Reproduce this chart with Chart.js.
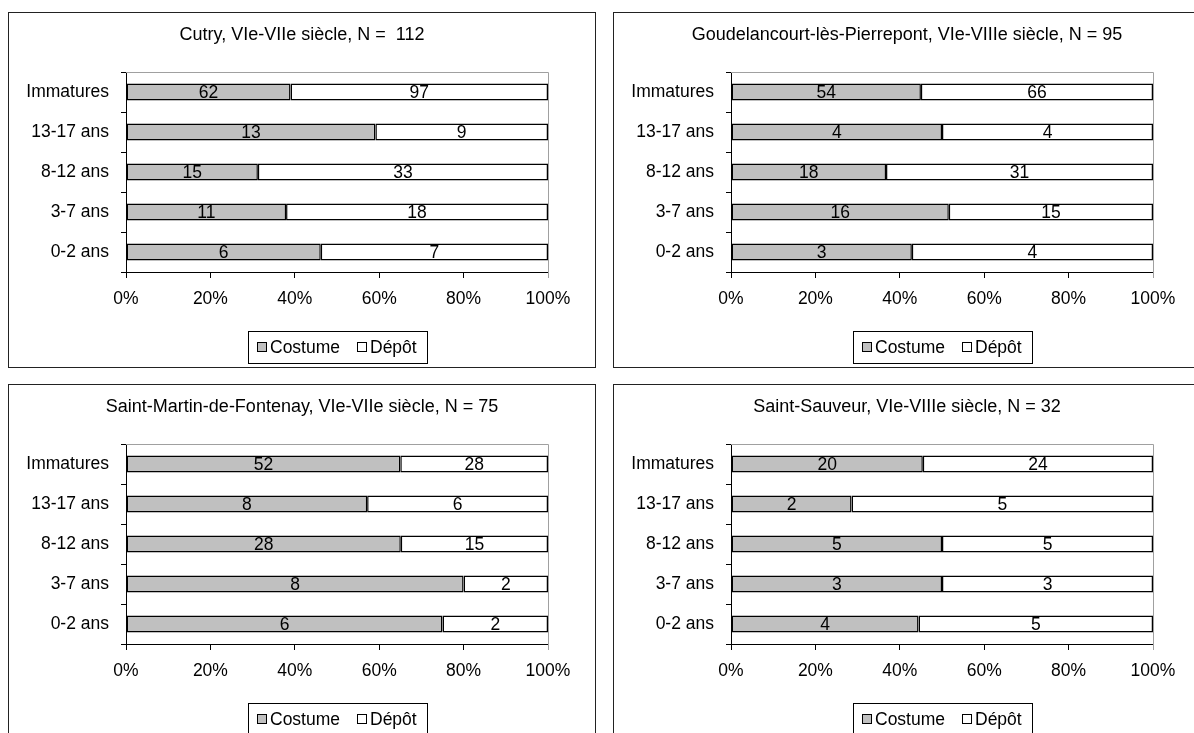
<!DOCTYPE html>
<html>
<head>
<meta charset="utf-8">
<script src="https://cdn.jsdelivr.net/npm/chart.js@4/dist/chart.umd.min.js"></script>
<style>
  body { margin: 0; background: #fff; overflow: hidden; width: 1194px; height: 733px; position: relative; }
  .panel { position: absolute; width: 586px; height: 354px; border: 1px solid #222; background: #fff; }
  .panel canvas { display: block; }
</style>
</head>
<body>
<div class="panel" style="left:8px;top:12px"><canvas id="chart-1" width="586" height="354"></canvas></div>
<div class="panel" style="left:613px;top:12px"><canvas id="chart-2" width="586" height="354"></canvas></div>
<div class="panel" style="left:8px;top:384px"><canvas id="chart-3" width="586" height="354"></canvas></div>
<div class="panel" style="left:613px;top:384px"><canvas id="chart-4" width="586" height="354"></canvas></div>

<script>
// data (counts)
const categories = ['Immatures', '13-17 ans', '8-12 ans', '3-7 ans', '0-2 ans'];
const seriesNames = ['Costume', 'Dépôt'];
const xTicks = [0, 20, 40, 60, 80, 100];

const titles = [
  'Cutry, VIe-VIIe siècle, N =  112',
  'Goudelancourt-lès-Pierrepont, VIe-VIIIe siècle, N = 95',
  'Saint-Martin-de-Fontenay, VIe-VIIe siècle, N = 75',
  'Saint-Sauveur, VIe-VIIIe siècle, N = 32'
];

const cutryCostume = [62, 13, 15, 11, 6];
const cutryDepot = [97, 9, 33, 18, 7];
const goudelancourtCostume = [54, 4, 18, 16, 3];
const goudelancourtDepot = [66, 4, 31, 15, 4];
const saintMartinCostume = [52, 8, 28, 8, 6];
const saintMartinDepot = [28, 6, 15, 2, 2];
const saintSauveurCostume = [20, 2, 5, 3, 4];
const saintSauveurDepot = [24, 5, 5, 3, 5];

const FONT = "'Liberation Sans', Arial, sans-serif";
const FSIZE = 17.5;
Chart.defaults.font.family = FONT;
Chart.defaults.font.size = FSIZE;
Chart.defaults.color = '#000';

// title centred on the whole panel (built-in title would follow the layout padding)
const panelTitle = {
  id: 'panelTitle',
  afterDraw(chart, args, opts) {
    const ctx = chart.ctx;
    ctx.save();
    ctx.font = '18px ' + FONT;
    ctx.fillStyle = '#000';
    ctx.textAlign = 'center';
    ctx.textBaseline = 'middle';
    ctx.fillText(opts.text, chart.width / 2, 22);
    ctx.restore();
  }
};

// gray frame on top and right of plot area
const frame = {
  id: 'frame',
  beforeDatasetsDraw(chart) {
    const a = chart.chartArea, ctx = chart.ctx;
    ctx.save();
    ctx.strokeStyle = '#a0a0a0';
    ctx.lineWidth = 1;
    ctx.beginPath();
    ctx.moveTo(a.left, a.top + 0.5);
    ctx.lineTo(a.right + 0.5, a.top + 0.5);
    ctx.lineTo(a.right + 0.5, a.bottom + 6);
    ctx.stroke();
    ctx.restore();
  }
};

// counts written in the middle of each segment
const valueLabels = {
  id: 'valueLabels',
  afterDatasetsDraw(chart) {
    const ctx = chart.ctx;
    ctx.save();
    ctx.font = FSIZE + 'px ' + FONT;
    ctx.fillStyle = '#000';
    ctx.textAlign = 'center';
    ctx.textBaseline = 'middle';
    chart.data.datasets.forEach((ds, i) => {
      chart.getDatasetMeta(i).data.forEach((bar, j) => {
        ctx.fillText(ds.counts[j], (bar.x + bar.base) / 2, bar.y + 1);
      });
    });
    ctx.restore();
  }
};

// boxed legend under the axis
const boxLegend = {
  id: 'boxLegend',
  afterDraw(chart) {
    const ctx = chart.ctx, a = chart.chartArea;
    const dsets = chart.data.datasets;
    ctx.save();
    ctx.font = FSIZE + 'px ' + FONT;
    const widths = dsets.map(ds => ctx.measureText(ds.label).width);
    let w = 9 + 10;
    widths.forEach((tw, i) => { w += 13 + tw + (i ? 17 : 0); });
    w = Math.round(w);
    const x0 = Math.round((a.left + a.right) / 2 - w / 2);
    const y0 = Math.round(a.bottom + 59);
    ctx.strokeStyle = '#000';
    ctx.lineWidth = 1;
    ctx.strokeRect(x0 + 0.5, y0 + 0.5, w, 32);
    let x = x0 + 9;
    ctx.textBaseline = 'middle';
    ctx.textAlign = 'left';
    dsets.forEach((ds, i) => {
      ctx.fillStyle = ds.backgroundColor;
      ctx.fillRect(x, y0 + 11, 9, 9);
      ctx.strokeRect(x + 0.5, y0 + 11.5, 9, 9);
      ctx.fillStyle = '#000';
      ctx.fillText(ds.label, x + 13, y0 + 17);
      x = Math.round(x + 13 + widths[i] + 17);
    });
    ctx.restore();
  }
};

function toPercent(a, b) {
  return a.map((v, i) => v / (a[i] + b[i]) * 100);
}

function makeChart(id, title, costume, depot) {
  if (!document.getElementById(id)) return;
  new Chart(document.getElementById(id), {
    type: 'bar',
    data: {
      labels: categories,
      datasets: [
        {
          label: seriesNames[0],
          data: toPercent(costume, depot),
          counts: costume,
          backgroundColor: '#c0c0c0',
          borderColor: '#000',
          borderWidth: 1.5,
          borderSkipped: false,
          barPercentage: 0.43,
          categoryPercentage: 1
        },
        {
          label: seriesNames[1],
          data: toPercent(depot, costume),
          counts: depot,
          backgroundColor: '#ffffff',
          borderColor: '#000',
          borderWidth: 1.5,
          borderSkipped: false,
          barPercentage: 0.43,
          categoryPercentage: 1
        }
      ]
    },
    options: {
      indexAxis: 'y',
      responsive: false,
      animation: false,
      layout: { padding: { left: 0, right: 47, top: 59, bottom: 55 } },
      plugins: {
        legend: { display: false },
        tooltip: { enabled: false },
        title: { display: false },
        panelTitle: { text: title }
      },
      scales: {
        x: {
          stacked: true,
          min: 0,
          max: 100,
          afterBuildTicks: s => { s.ticks = xTicks.map(v => ({ value: v })); },
          afterFit: s => { s.height = 40; },
          ticks: { callback: v => v + '%', padding: 11, maxRotation: 0 },
          grid: { drawOnChartArea: false, tickLength: 6, color: '#000' },
          border: { color: '#000' }
        },
        y: {
          stacked: true,
          afterFit: s => { s.width = 117; },
          ticks: { padding: 12 },
          grid: { drawOnChartArea: false, tickLength: 5, color: '#000', offset: true },
          border: { color: '#000' }
        }
      }
    },
    plugins: [panelTitle, frame, valueLabels, boxLegend]
  });
}

makeChart('chart-1', titles[0], cutryCostume, cutryDepot);
makeChart('chart-2', titles[1], goudelancourtCostume, goudelancourtDepot);
makeChart('chart-3', titles[2], saintMartinCostume, saintMartinDepot);
makeChart('chart-4', titles[3], saintSauveurCostume, saintSauveurDepot);
</script>
</body>
</html>
